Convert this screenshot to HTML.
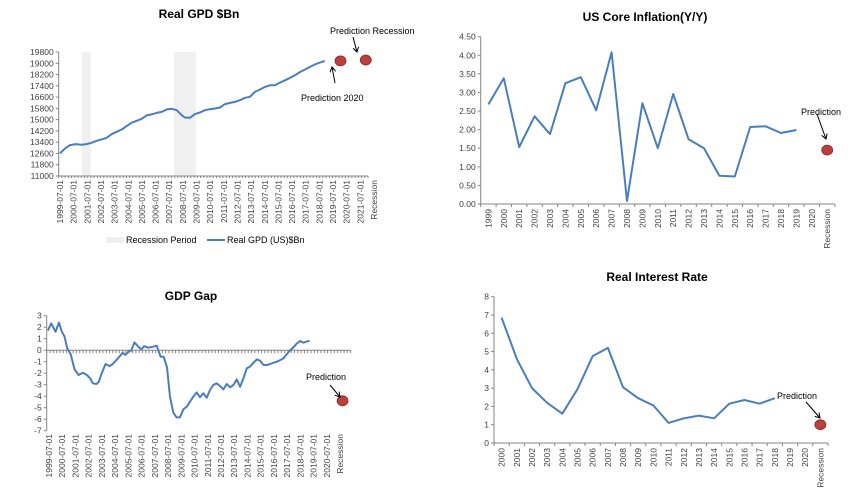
<!DOCTYPE html>
<html><head><meta charset="utf-8">
<style>
html,body{margin:0;padding:0;background:#fff;}
svg{display:block;font-family:"Liberation Sans",Arial,sans-serif;}
.tick{font-size:8.5px;fill:#404040;}
.title{font-size:12px;font-weight:bold;fill:#000;}
.ann{font-size:9px;fill:#000;}
</style></head>
<body>
<svg id="root" width="862" height="492" viewBox="0 0 862 492" xmlns="http://www.w3.org/2000/svg">
<defs>
<marker id="arr" markerWidth="6" markerHeight="6" refX="5" refY="3" orient="auto"><path d="M0,0 L5,3 L0,6" fill="none" stroke="#000" stroke-width="1"/></marker>
</defs>
</svg>
<script>
// ---- Chart 1: Real GDP ----
const gdpYears = [1999.5,1999.87,2000.23,2000.67,2001.08,2001.45,2001.82,2002.19,2002.55,2002.92,2003.28,2003.65,2004.02,2004.38,2004.75,2005.12,2005.48,2005.85,2006.21,2006.58,2006.95,2007.31,2007.68,2008.05,2008.41,2008.65,2009.02,2009.39,2009.75,2010.12,2010.48,2010.85,2011.22,2011.58,2011.95,2012.31,2012.68,2013.05,2013.41,2013.78,2014.15,2014.51,2014.88,2015.25,2015.61,2015.98,2016.34,2016.71,2017.08,2017.44,2017.81,2018.17,2018.54,2018.9,2019.15];
const gdpValues = [12605,12960,13190,13265,13220,13265,13360,13500,13600,13710,13970,14140,14300,14540,14780,14920,15060,15300,15370,15480,15550,15720,15770,15670,15320,15150,15130,15390,15510,15670,15740,15790,15860,16100,16190,16260,16380,16550,16620,16970,17140,17320,17440,17440,17630,17790,17960,18150,18380,18550,18740,18910,19050,19170];
const gdpTicks = [11000,11800,12600,13400,14200,15000,15800,16600,17400,18200,19000,19800];
const gdpLabels = ["1999-07-01","2000-07-01","2001-07-01","2002-07-01","2003-07-01","2004-07-01","2005-07-01","2006-07-01","2007-07-01","2008-07-01","2009-07-01","2010-07-01","2011-07-01","2012-07-01","2013-07-01","2014-07-01","2015-07-01","2016-07-01","2017-07-01","2018-07-01","2019-07-01","2020-07-01","2021-07-01","Recession"];
const gdpRecessions = [[2001.1,2001.75],[2007.85,2009.45]];
const gdpPredYears = [2020.05,2021.9];
const gdpPredValues = [19170,19230];

// ---- Chart 2: Core inflation ----
const infCats = ["1999","2000","2001","2002","2003","2004","2005","2006","2007","2008","2009","2010","2011","2012","2013","2014","2015","2016","2017","2018","2019","2020","Recession"];
const infValues = [2.68,3.38,1.53,2.36,1.88,3.25,3.41,2.52,4.08,0.08,2.71,1.50,2.96,1.74,1.50,0.76,0.74,2.07,2.09,1.91,1.99];
const infTicks = [0,0.5,1,1.5,2,2.5,3,3.5,4,4.5];
const infPred = 1.45;

// ---- Chart 3: GDP gap ----
const gapYears = [1999.42,1999.67,2000.0,2000.25,2000.48,2000.68,2000.88,2001.14,2001.44,2001.74,2002.07,2002.37,2002.62,2002.82,2003.08,2003.28,2003.45,2003.78,2004.08,2004.33,2004.71,2005.09,2005.29,2005.59,2005.72,2005.97,2006.23,2006.48,2006.73,2006.99,2007.36,2007.66,2007.96,2008.19,2008.44,2008.67,2008.92,2009.17,2009.42,2009.68,2009.93,2010.18,2010.43,2010.69,2010.94,2011.19,2011.45,2011.7,2011.95,2012.2,2012.46,2012.71,2012.96,2013.22,2013.47,2013.72,2013.98,2014.23,2014.48,2014.73,2014.99,2015.24,2015.49,2015.75,2016.0,2016.25,2016.51,2016.76,2017.01,2017.26,2017.52,2017.77,2018.02,2018.28,2018.53,2018.78,2019.24];
const gapValues = [1.7,2.33,1.6,2.4,1.6,1.17,0.16,-0.33,-1.67,-2.16,-1.96,-2.16,-2.45,-2.88,-2.94,-2.74,-2.16,-1.2,-1.38,-1.2,-0.71,-0.22,-0.42,-0.04,-0.04,0.68,0.36,0.07,0.36,0.22,0.30,0.39,-0.57,-0.57,-1.49,-4.04,-5.43,-5.84,-5.84,-5.14,-4.91,-4.48,-4.04,-3.67,-4.1,-3.75,-4.13,-3.46,-3.03,-2.88,-3.12,-3.41,-2.94,-3.23,-3.03,-2.54,-3.17,-2.45,-1.58,-1.43,-1.09,-0.8,-0.91,-1.29,-1.29,-1.2,-1.09,-1.0,-0.86,-0.71,-0.33,0.01,0.25,0.59,0.80,0.65,0.83,0.83];
const gapTicks = [-7,-6,-5,-4,-3,-2,-1,0,1,2,3];
const gapLabels = ["1999-07-01","2000-07-01","2001-07-01","2002-07-01","2003-07-01","2004-07-01","2005-07-01","2006-07-01","2007-07-01","2008-07-01","2009-07-01","2010-07-01","2011-07-01","2012-07-01","2013-07-01","2014-07-01","2015-07-01","2016-07-01","2017-07-01","2018-07-01","2019-07-01","2020-07-01","Recession"];
const gapPred = -4.4;

// ---- Chart 4: Real interest rate ----
const rateCats = ["2000","2001","2002","2003","2004","2005","2006","2007","2008","2009","2010","2011","2012","2013","2014","2015","2016","2017","2018","2019","2020","Recession"];
const rateValues = [6.85,4.6,3.0,2.2,1.6,2.95,4.75,5.2,3.05,2.45,2.05,1.1,1.35,1.5,1.35,2.15,2.35,2.15,2.45];
const rateTicks = [0,1,2,3,4,5,6,7,8];
const ratePred = 1.0;

const NS = "http://www.w3.org/2000/svg";
const root = document.getElementById('root');
function el(tag, attrs, parent, txt){
  const e = document.createElementNS(NS, tag);
  for (const k in attrs) e.setAttribute(k, attrs[k]);
  if (txt !== undefined) e.textContent = txt;
  (parent || root).appendChild(e);
  return e;
}
function lin(d0,d1,r0,r1){ return v => r0 + (v-d0)/(d1-d0)*(r1-r0); }
const BLUE = "#4a7ebb", AXIS="#868686";

function group(name){
  const g = el('g', {});
  
  
  return g;
}
function title(g, x, y, t){
  const e = el('text', {x:x, y:y, 'text-anchor':'middle', class:'title'}, g, t);
  
  
}
function yAxis(g, x0, x1, ticks, y, fmt){
  const ax = el('line', {x1:x0, y1:y(ticks[0]), x2:x0, y2:y(ticks[ticks.length-1]), stroke:AXIS, 'stroke-width':1}, g);
  
  
  ticks.forEach(t => {
    el('line', {x1:x0-3, y1:y(t), x2:x0, y2:y(t), stroke:AXIS}, g);
    const tl = el('text', {x:x0-5, y:y(t)+3, 'text-anchor':'end', class:'tick'}, g, fmt(t));
    
    
  });
}
function xLabels(g, labels, xs, yTop){
  labels.forEach((l,i) => {
    const x = xs(i);
    const t = el('text', {x:0, y:0, 'text-anchor':'end', class:'tick', transform:`translate(${x+3},${yTop}) rotate(-90)`}, g, l);
    
    
  });
}
function line(g, pts, name){
  const p = el('polyline', {points: pts.map(p=>p[0].toFixed(1)+","+p[1].toFixed(1)).join(" "), fill:'none', stroke:BLUE, 'stroke-width':2, 'stroke-linejoin':'round'}, g);
  
  
}
function dot(g, x, y, name){
  const c = el('ellipse', {cx:x, cy:y, rx:5.5, ry:5, fill:'#b8413e', stroke:'#8c2a28', 'stroke-width':0.8}, g);
  
  
}
function ann(g, x, y, t, name){
  const e = el('text', {x:x, y:y, class:'ann'}, g, t);
  
  
}
function arrow(g, x1,y1,x2,y2){
  const a = el('line', {x1:x1,y1:y1,x2:x2,y2:y2, stroke:'#000', 'stroke-width':1, 'marker-end':'url(#arr)'}, g);
  
  
}

// Chart 1
(function(){
  const g = group('real-gdp-chart');
  title(g, 199, 18, "Real GPD $Bn");
  const y = lin(11000, 19800, 176, 52);
  const xy = lin(1999.5, 2000.5, 60, 73.65);
  gdpRecessions.forEach(r => {
    const rc = el('rect', {x:xy(r[0]), y:52, width:xy(r[1])-xy(r[0]), height:124, fill:'#f0f0f0'}, g);
    
    
  });
  yAxis(g, 58.7, 0, gdpTicks, y, t=>t);
  const xa = el('line', {x1:58.7, y1:176, x2:368, y2:176, stroke:AXIS}, g);
  
  
  const xi = i => 60 + i*13.65;
  for (let i=0;i<=96;i++){ const x=58.7+i*(368-58.7)/96; el('line',{x1:x,y1:176,x2:x,y2:178,stroke:AXIS},g); }
  xLabels(g, gdpLabels, xi, 180);
  line(g, gdpYears.map((yr,i)=>[xy(yr), y(gdpValues[i])]), 'gdp-line');
  dot(g, xy(gdpPredYears[0]), y(gdpPredValues[0]), 'prediction-2020-dot');
  dot(g, xy(gdpPredYears[1]), y(gdpPredValues[1]), 'prediction-recession-dot');
  ann(g, 330, 34, "Prediction   Recession", 'prediction-recession-label');
  arrow(g, 353, 37, 357, 52);
  ann(g, 301, 101, "Prediction   2020", 'prediction-2020-label');
  arrow(g, 335, 83, 332, 67);
  // legend
  const lg = group('legend');
  const r = el('rect', {x:106, y:237, width:18, height:6, fill:'#f0f0f0'}, lg);
  
  
  ann(lg, 126, 243, "Recession Period", 'legend-recession-label');
  const ll = el('line', {x1:207, y1:240, x2:225, y2:240, stroke:BLUE, 'stroke-width':2}, lg);
  
  
  ann(lg, 227, 243, "Real GPD (US)$Bn", 'legend-gdp-label');
  lg.querySelectorAll('text').forEach(t=>t.setAttribute('fill','#595959'));
})();

// Chart 2
(function(){
  const g = group('core-inflation-chart');
  title(g, 645, 21, "US Core Inflation(Y/Y)");
  const y = lin(0, 4.5, 204, 36.7);
  const x0 = 480.7, w = 15.4;
  const x = i => x0 + (i+0.5)*w;
  yAxis(g, x0, 0, infTicks, y, t=>t.toFixed(2));
  const xa = el('line', {x1:x0, y1:204, x2:x0+infCats.length*w, y2:204, stroke:AXIS}, g);
  
  
  for (let i=0;i<=infCats.length;i++) el('line',{x1:x0+i*w,y1:204,x2:x0+i*w,y2:207,stroke:AXIS},g);
  xLabels(g, infCats, x, 209);
  line(g, infValues.map((v,i)=>[x(i), y(v)]), 'inflation-line');
  dot(g, x(infCats.length-1), y(infPred), 'prediction-dot');
  ann(g, 801, 115, "Prediction", 'prediction-label');
  arrow(g, 817, 114, 826, 139);
})();

// Chart 3
(function(){
  const g = group('gdp-gap-chart');
  title(g, 191, 300, "GDP Gap");
  const y = lin(-7, 3, 430.7, 315.7);
  const xy = lin(1999.5, 2000.5, 49, 62.2);
  yAxis(g, 46.7, 0, gapTicks, y, t=>t);
  const xa = el('line', {x1:46.7, y1:y(0), x2:350.7, y2:y(0), stroke:AXIS}, g);
  
  
  for (let i=0;i<=92;i++){ const xx=46.7+i*(350.7-46.7)/92; el('line',{x1:xx,y1:y(0),x2:xx,y2:y(0)+3,stroke:AXIS},g); }
  const xi = i => 49 + i*13.23;
  xLabels(g, gapLabels, xi, 434);
  line(g, gapYears.map((yr,i)=>[xy(yr), y(gapValues[i])]), 'gdp-gap-line');
  dot(g, xi(gapLabels.length-1)+2.5, y(gapPred), 'prediction-dot');
  ann(g, 306, 380, "Prediction", 'prediction-label');
  arrow(g, 330, 385, 340, 397);
})();

// Chart 4
(function(){
  const g = group('real-interest-rate-chart');
  title(g, 657, 281, "Real Interest Rate");
  const y = lin(0, 8, 443, 296.7);
  const x0 = 494, w = 15.18;
  const x = i => x0 + (i+0.5)*w;
  yAxis(g, x0, 0, rateTicks, y, t=>t);
  const xa = el('line', {x1:x0, y1:443, x2:x0+rateCats.length*w, y2:443, stroke:AXIS}, g);
  
  
  for (let i=0;i<=rateCats.length;i++) el('line',{x1:x0+i*w,y1:443,x2:x0+i*w,y2:446,stroke:AXIS},g);
  xLabels(g, rateCats, x, 448);
  line(g, rateValues.map((v,i)=>[x(i), y(v)]), 'interest-rate-line');
  dot(g, x(rateCats.length-1), y(ratePred), 'prediction-dot');
  ann(g, 777, 399, "Prediction", 'prediction-label');
  arrow(g, 806, 402, 820, 418);
})();
</script>
</body></html>
